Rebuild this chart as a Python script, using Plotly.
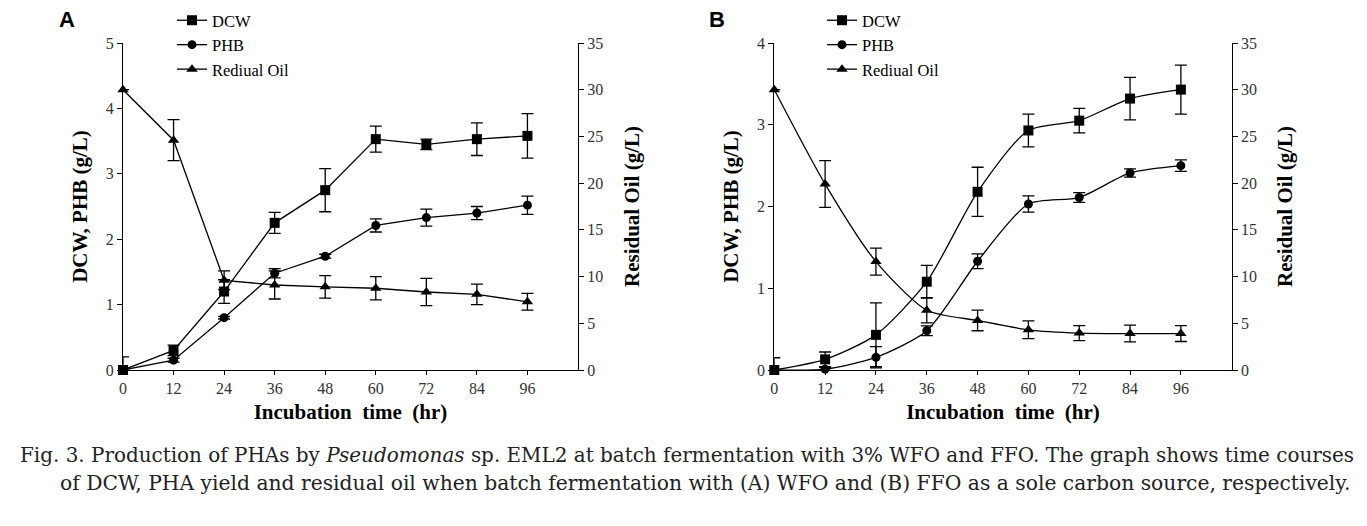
import plotly.graph_objects as go

time_hr = [0, 12, 24, 36, 48, 60, 72, 84, 96]
x_ticks = [0, 12, 24, 36, 48, 60, 72, 84, 96]

# Panel A (WFO)
dcw_a = [0, 0.30, 1.20, 2.25, 2.75, 3.53, 3.45, 3.53, 3.58]
dcw_a_err = [0.20, 0.08, 0.18, 0.16, 0.33, 0.20, 0.08, 0.25, 0.34]
phb_a = [0, 0.15, 0.80, 1.48, 1.74, 2.21, 2.33, 2.40, 2.52]
phb_a_err = [0, 0.03, 0.02, 0.07, 0.03, 0.10, 0.13, 0.10, 0.14]
oil_a = [30.0, 24.6, 9.6, 9.1, 8.9, 8.75, 8.35, 8.1, 7.3]
oil_a_err = [0, 2.2, 1.0, 1.5, 1.2, 1.25, 1.45, 1.1, 0.9]

# Panel B (FFO)
dcw_b = [0, 0.13, 0.43, 1.08, 2.18, 2.93, 3.05, 3.32, 3.43]
dcw_b_err = [0.15, 0.09, 0.39, 0.20, 0.30, 0.20, 0.15, 0.26, 0.30]
phb_b = [0, 0.01, 0.155, 0.48, 1.33, 2.03, 2.11, 2.41, 2.50]
phb_b_err = [0, 0.02, 0.13, 0.06, 0.09, 0.10, 0.06, 0.05, 0.07]
oil_b = [30.0, 19.9, 11.6, 6.4, 5.3, 4.3, 3.95, 3.9, 3.9]
oil_b_err = [0, 2.5, 1.45, 1.35, 1.1, 0.95, 0.8, 0.9, 0.85]

series_names = ["DCW", "PHB", "Rediual Oil"]
symbols = ["square", "circle", "triangle-up"]

SERIF = "Liberation Serif, Times New Roman, serif"
W, H = 1367, 526
fig = go.Figure()

def add_panel(xa, yl, yr, vals, errs, legend, shape):
    for i, (v, e) in enumerate(zip(vals, errs)):
        fig.add_trace(go.Scatter(
            x=time_hr, y=v, name=series_names[i], mode="lines+markers",
            xaxis=xa, yaxis=(yr if i == 2 else yl), legend=legend,
            line=dict(color="black", width=1.3, shape=shape, smoothing=0.7),
            marker=dict(symbol=symbols[i], size=[10, 9, 10][i], color="black"),
            error_y=dict(type="data", array=e, visible=True, color="black",
                         thickness=1.3, width=6),
            cliponaxis=False,
        ))

add_panel("x", "y", "y2", [dcw_a, phb_a, oil_a], [dcw_a_err, phb_a_err, oil_a_err], "legend", "linear")
add_panel("x2", "y3", "y4", [dcw_b, phb_b, oil_b], [dcw_b_err, phb_b_err, oil_b_err], "legend2", "spline")

ydom = [1 - 370 / H, 1 - 43 / H]
tickfont = dict(family=SERIF, size=16, color="#333")
titlefont = dict(family=SERIF, size=21, color="black")

def xax(domain, anchor):
    return dict(domain=domain, anchor=anchor, range=[0, 108], tickvals=x_ticks,
                showline=True, linecolor="black", linewidth=1.3, ticks="outside",
                ticklen=4, tickcolor="black", showgrid=False, zeroline=False,
                tickfont=tickfont, automargin=False,
                title=dict(text="<b>Incubation  time  (hr)</b>", font=titlefont, standoff=7))

def yax(rng, dtick, anchor, title, side="left", overlaying=None, standoff=12):
    d = dict(domain=ydom, anchor=anchor, range=rng, dtick=dtick, side=side,
             showline=True, linecolor="black", linewidth=1.3, ticks="outside",
             ticklen=5, tickcolor="black", showgrid=False, zeroline=False,
             tickfont=tickfont, automargin=False,
             title=dict(text="<b>" + title + "</b>", font=titlefont, standoff=standoff))
    if overlaying:
        d["overlaying"] = overlaying
    return d

legfont = dict(family=SERIF, size=16.5, color="black")
fig.update_layout(
    width=W, height=H, margin=dict(l=0, r=0, t=0, b=0, autoexpand=False),
    paper_bgcolor="white", plot_bgcolor="white",
    xaxis=xax([123 / W, 578 / W], "y"),
    xaxis2=xax([774.3 / W, 1231.7 / W], "y3"),
    yaxis=yax([0, 5], 1, "x", "DCW, PHB (g/L)"),
    yaxis2=yax([0, 35], 5, "x", "Residual Oil (g/L)", side="right", overlaying="y", standoff=21),
    yaxis3=yax([0, 4], 1, "x2", "DCW, PHB (g/L)"),
    yaxis4=yax([0, 35], 5, "x2", "Residual Oil (g/L)", side="right", overlaying="y3", standoff=21),
    legend=dict(x=172 / W, y=1 - 3 / H, xanchor="left", yanchor="top",
                font=legfont, bgcolor="rgba(0,0,0,0)", tracegroupgap=0),
    legend2=dict(x=822 / W, y=1 - 3 / H, xanchor="left", yanchor="top",
                 font=legfont, bgcolor="rgba(0,0,0,0)", tracegroupgap=0),
    showlegend=True,
)

fig.add_annotation(text="<b>A</b>", x=57 / W, y=1 - 20 / H, xref="paper", yref="paper",
                   xanchor="left", yanchor="middle", showarrow=False,
                   font=dict(family="Liberation Sans, Arial, sans-serif", size=22, color="black"))
fig.add_annotation(text="<b>B</b>", x=707 / W, y=1 - 20 / H, xref="paper", yref="paper",
                   xanchor="left", yanchor="middle", showarrow=False,
                   font=dict(family="Liberation Sans, Arial, sans-serif", size=22, color="black"))

fig.add_annotation(
    text="Fig. 3. Production of PHAs by <i>Pseudomonas</i> sp. EML2 at batch fermentation with 3% WFO and FFO. The graph shows time courses",
    x=18 / W, y=1 - 455 / H, xref="paper", yref="paper", xanchor="left", yanchor="middle",
    showarrow=False, font=dict(family="DejaVu Serif, serif", size=19.95, color="#222"))
fig.add_annotation(
    text="of DCW, PHA yield and residual oil when batch fermentation with (A) WFO and (B) FFO as a sole carbon source, respectively.",
    x=58 / W, y=1 - 483 / H, xref="paper", yref="paper", xanchor="left", yanchor="middle",
    showarrow=False, font=dict(family="DejaVu Serif, serif", size=20.3, color="#222"))

fig.write_html("out.html", config={"displayModeBar": False},
               post_script="document.body.style.margin='0px';")
